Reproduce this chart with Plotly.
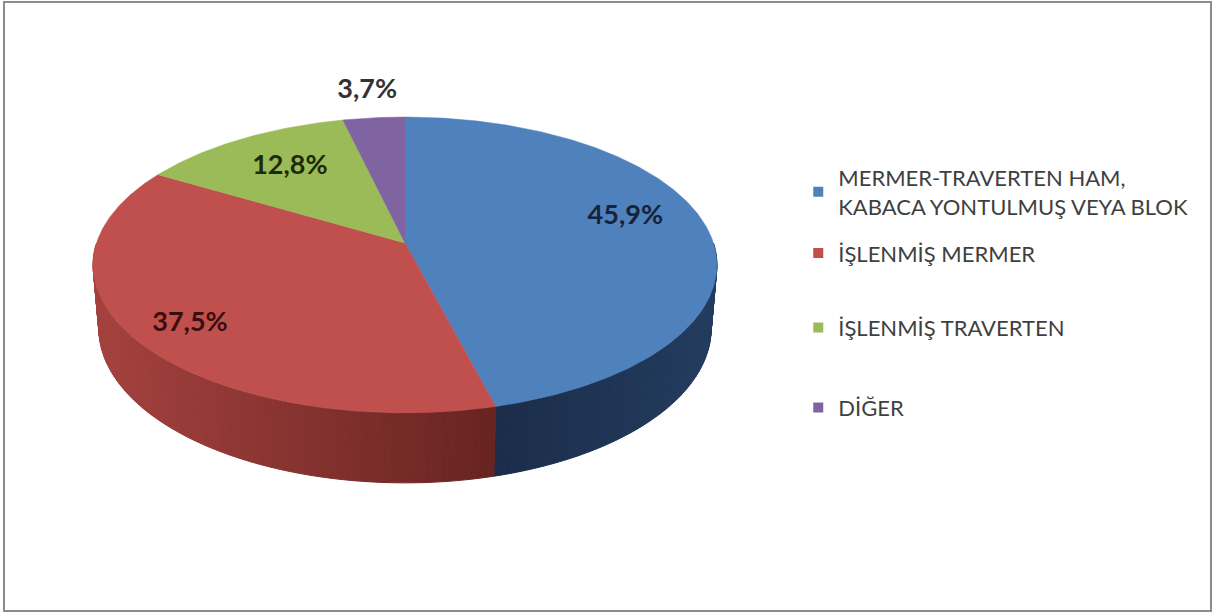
import numpy as np
import plotly.graph_objects as go

# ---- data ----
categories = ["MERMER-TRAVERTEN HAM,<br>KABACA YONTULMUŞ VEYA BLOK",
              "İŞLENMİŞ MERMER", "İŞLENMİŞ TRAVERTEN", "DİĞER"]
values = [45.9, 37.5, 12.8, 3.7]
labels = ["45,9%", "37,5%", "12,8%", "3,7%"]

# ---- style ----
top_colors = ["#4F81BD", "#C0504D", "#9BBB59", "#8064A2"]
side_left = [(27, 45, 74), (165, 66, 63), (120, 145, 68), (98, 76, 125)]
side_right = [(36, 60, 95), (104, 36, 34), (90, 110, 50), (80, 60, 105)]
label_colors = ["#16233A", "#3A0E0E", "#1A2A0A", "#333333"]
label_frac = [0.73, 0.81, 0.68, 1.25]
label_dy = [-13, 5, -3, 0]      # small vertical nudges (px)

W, H = 1215, 616
# perspective view of a flat cylinder (3D pie)
apex_x, apex_y = 405, 243       # screen position of pie centre
K = 1836.0                      # focal scale (px)
RHO = 0.168                     # pie radius / camera distance
ALPHA = np.arcsin(0.469)        # camera elevation
THICK = 0.0395                  # pie thickness / camera distance
sa, ca = np.sin(ALPHA), np.cos(ALPHA)


def proj(t, f=1.0, y3=0.0):
    """true angle t (clockwise from back), radius fraction f, height y3 -> screen px"""
    X = RHO * f * np.sin(t)
    Z = RHO * f * np.cos(t)
    w = 1.0 + Z * ca - y3 * sa
    up = y3 * ca + Z * sa
    return apex_x + K * X / w, apex_y - K * up / w


fig = go.Figure()

total = sum(values)
bounds = np.concatenate([[0], np.cumsum(values)]) / total * 2 * np.pi

# side walls (front half)
for i in range(len(values)):
    a0 = max(bounds[i], np.pi / 2)
    a1 = min(bounds[i + 1], 3 * np.pi / 2)
    if a1 <= a0:
        continue
    n = max(int((a1 - a0) / 0.015), 2)
    ts = np.linspace(a0, a1, n + 1)
    xs_all = [proj(t)[0] for t in ts]
    xmin, xmax = min(xs_all), max(xs_all)
    for k in range(n):
        t0, t1 = ts[k], ts[k + 1]
        p = [proj(t0), proj(t1), proj(t1, 1.0, -THICK), proj(t0, 1.0, -THICK)]
        xm = (p[0][0] + p[1][0]) / 2
        f = (xm - xmin) / (xmax - xmin) if xmax > xmin else 0
        c = tuple(int(side_left[i][j] + (side_right[i][j] - side_left[i][j]) * f) for j in range(3))
        col = "rgb(%d,%d,%d)" % c
        fig.add_trace(go.Scatter(
            x=[q[0] for q in p] + [p[0][0]], y=[q[1] for q in p] + [p[0][1]],
            mode="lines", fill="toself", fillcolor=col,
            line=dict(color=col, width=1), hoverinfo="skip", showlegend=False))

# top faces
for i in range(len(values)):
    ts = np.linspace(bounds[i], bounds[i + 1], max(int((bounds[i + 1] - bounds[i]) / 0.01), 2))
    pts = [proj(t) for t in ts]
    xs = [apex_x] + [q[0] for q in pts] + [apex_x]
    ys = [apex_y] + [q[1] for q in pts] + [apex_y]
    fig.add_trace(go.Scatter(
        x=xs, y=ys, mode="lines", fill="toself", fillcolor=top_colors[i],
        line=dict(color=top_colors[i], width=0.5), hoverinfo="skip", showlegend=False))

# data labels
mids = (bounds[:-1] + bounds[1:]) / 2
lp = [proj(m, f) for m, f in zip(mids, label_frac)]
fig.add_trace(go.Scatter(
    x=[q[0] for q in lp], y=[q[1] + d for q, d in zip(lp, label_dy)], mode="text", text=labels,
    textfont=dict(family="Lato", size=27, color=label_colors, weight="bold"),
    hoverinfo="skip", showlegend=False))

# legend entries (one legend per item, to reproduce the spacing)
legend_y = [0.688, 0.589, 0.468, 0.338]
legend_names = ["legend", "legend2", "legend3", "legend4"]
for i, name in enumerate(categories):
    fig.add_trace(go.Scatter(
        x=[None], y=[None], mode="markers", name=name,
        marker=dict(symbol="square", size=10, color=top_colors[i]),
        legend=legend_names[i], showlegend=True))

layout_legends = {}
for ln, yv in zip(legend_names, legend_y):
    layout_legends[ln] = dict(
        x=0.657, xanchor="left", y=yv, yanchor="middle",
        font=dict(family="Lato", size=22, color="#3F3F3F"),
        bgcolor="rgba(0,0,0,0)", itemwidth=30)

fig.update_layout(
    width=W, height=H, autosize=False,
    margin=dict(l=0, r=0, t=0, b=0),
    paper_bgcolor="white", plot_bgcolor="white",
    xaxis=dict(range=[0, W], visible=False, fixedrange=True),
    yaxis=dict(range=[H, 0], visible=False, fixedrange=True),
    shapes=[dict(type="rect", xref="paper", yref="paper",
                 x0=4 / W, x1=1211 / W, y0=1 - 611 / H, y1=1 - 2 / H,
                 line=dict(color="#8C8C8C", width=2), fillcolor="rgba(0,0,0,0)")],
    **layout_legends,
)

fig.write_html("out.html")
